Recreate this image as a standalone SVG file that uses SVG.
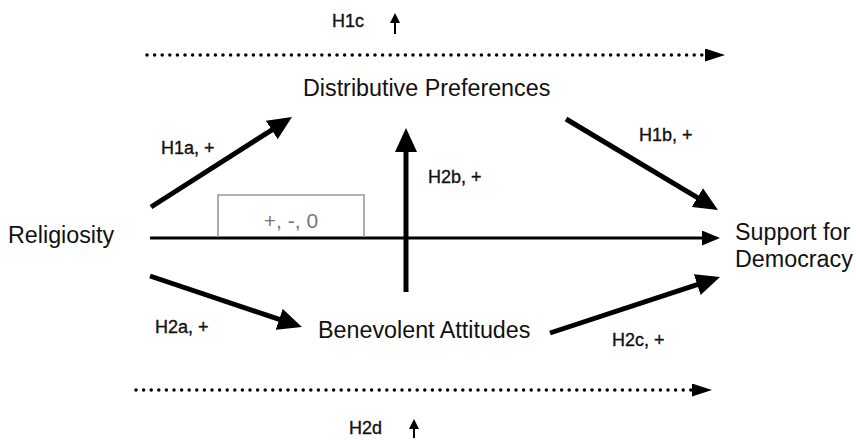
<svg xmlns="http://www.w3.org/2000/svg" width="856" height="440" viewBox="0 0 856 440">
<style>
text{font-family:"Liberation Sans",Arial,sans-serif;fill:#111}
.main{font-size:23.3px}
.lab{font-size:18px;stroke:#111;stroke-width:0.35}
.thick{stroke:#000;stroke-width:5;fill:none}
.dots{stroke:#000;stroke-width:3.5;stroke-linecap:round;stroke-dasharray:0 7.6;fill:none}
</style>
<defs>
<marker id="big" viewBox="0 0 24 22" markerUnits="userSpaceOnUse" markerWidth="24" markerHeight="22" refX="4" refY="11" orient="auto"><path d="M0,0 L24,11 L0,22 z" fill="#000"/></marker>
<marker id="mid" viewBox="0 0 18 15" markerUnits="userSpaceOnUse" markerWidth="18" markerHeight="15" refX="3" refY="7.5" orient="auto"><path d="M0,0 L18,7.5 L0,15 z" fill="#000"/></marker>
<marker id="dothead" viewBox="0 0 20 13" markerUnits="userSpaceOnUse" markerWidth="20" markerHeight="13" refX="1" refY="6.5" orient="auto"><path d="M0,0 L20,6.5 L0,13 z" fill="#000"/></marker>
<marker id="small" viewBox="0 0 10 10" markerUnits="userSpaceOnUse" markerWidth="10" markerHeight="10" refX="1" refY="5" orient="auto"><path d="M0,0 L10,5 L0,10 z" fill="#000"/></marker>
</defs>
<g id="connectors">
<path class="dots" d="M147,55 H706" marker-end="url(#dothead)"/>
<path class="dots" d="M136,390 H693" marker-end="url(#dothead)"/>
<path class="thick" d="M151,207 L275.1,127.8" marker-end="url(#big)"/>
<path class="thick" d="M566,119 L700.8,199.7" marker-end="url(#big)"/>
<path class="thick" d="M150,276 L283,320.6" marker-end="url(#big)"/>
<path class="thick" d="M550,333 L701,283.3" marker-end="url(#big)"/>
<path class="thick" d="M406,292 V148" stroke-width="4.5" marker-end="url(#big)"/>
<path d="M150,238 H705" stroke="#000" stroke-width="3" fill="none" marker-end="url(#mid)"/>
<path d="M395,34 V22" stroke="#000" stroke-width="2" fill="none" marker-end="url(#small)"/>
<path d="M414,438 V428" stroke="#000" stroke-width="2" fill="none" marker-end="url(#small)"/>
</g>
<g id="box">
<path d="M218,237 V195 H364 V237" fill="none" stroke="#999" stroke-width="1.6"/>
<text x="291" y="228" text-anchor="middle" style="font-size:21px;fill:#777">+, -, 0</text>
</g>
<g id="religiosity"><text class="main" x="8" y="243">Religiosity</text></g>
<g id="distributive"><text class="main" x="303" y="96">Distributive Preferences</text></g>
<g id="benevolent"><text class="main" x="318" y="338">Benevolent Attitudes</text></g>
<g id="support"><text class="main" x="735" y="240">Support for</text><text class="main" x="735" y="267">Democracy</text></g>
<g id="labels">
<text class="lab" x="332" y="27">H1c</text>
<text class="lab" x="349" y="434">H2d</text>
<text class="lab" x="161" y="154">H1a, +</text>
<text class="lab" x="639" y="141">H1b, +</text>
<text class="lab" x="428" y="183">H2b, +</text>
<text class="lab" x="155" y="333">H2a, +</text>
<text class="lab" x="612" y="346">H2c, +</text>
</g>
</svg>
